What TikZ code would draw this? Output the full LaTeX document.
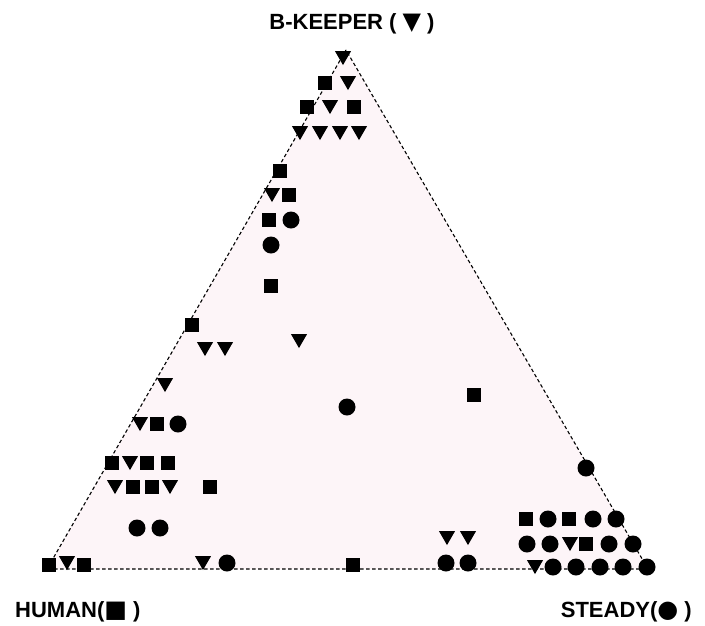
\documentclass[tikz,border=0pt]{standalone}
\usepackage{fontspec}
\setmainfont{Liberation Sans}
\newfontfamily\symfont{DejaVu Sans}
\usetikzlibrary{shapes.geometric}
\definecolor{tri}{RGB}{253,245,248}
\tikzset{
  sq/.style={rectangle,fill=black,inner sep=0pt,minimum size=14.5pt},
  ci/.style={circle,fill=black,inner sep=0pt,minimum size=17pt},
  tr/.style={regular polygon,regular polygon sides=3,shape border rotate=180,fill=black,inner sep=0pt,minimum size=18.5pt,yshift=2.2pt},
  edge/.style={dash pattern=on 3.5pt off 2.5pt,line width=1.1pt},
  lab/.style={font=\fontsize{22}{26}\selectfont\bfseries,inner sep=0pt}
}
\newcommand{\sym}[1]{{\symfont\fontsize{24}{26}\selectfont #1}}
\begin{document}
\begin{tikzpicture}[x=1pt,y=-1pt]
\useasboundingbox (0,0) rectangle (705,625);
\coordinate (A) at (346,50);
\coordinate (L) at (47,569);
\coordinate (R) at (648,569);
\fill[tri] (A) -- (L) -- (R) -- cycle;
\draw[edge] (A) -- (L) -- (R) -- cycle;
\foreach \x/\y [count=\i] in {325/83,307/107,354/107,280/171,289/195,269/220,271/286,192/325,157/424,112/463,147/463,168/463,133/487,152/487,210/487,49/565,84/565,353/565,474/395,526/519,569/519,586/544}
  \node[sq] (s\i) at (\x,\y) {};
\foreach \x/\y [count=\i] in {343/58,348/83,330/107,300/133,320/133,340/133,359/133,272/195,205/349,225/349,165/385,299/341,140/424,130/463,115/487,170/487,203/563,67/563,447/538,468/538,570/544,535/567}
  \node[tr] (t\i) at (\x,\y) {};
\foreach \x/\y [count=\i] in {291/220,271/245,347/407,178/424,137/528,160/528,227/563,446/563,468/563,586/468,548/519,593/519,616/519,527/544,550/544,609/544,633/544,553/567,576/567,600/567,623/567,647/567}
  \node[ci] (c\i) at (\x,\y) {};
\node[lab,anchor=base] (top) at (352,29) {B-KEEPER ( \sym{▼} )};
\node[lab,anchor=base west] (hum) at (15,617) {HUMAN(\sym{■} )};
\node[lab,anchor=base east] (ste) at (692,617) {STEADY(\sym{●} )};
\end{tikzpicture}
\end{document}
